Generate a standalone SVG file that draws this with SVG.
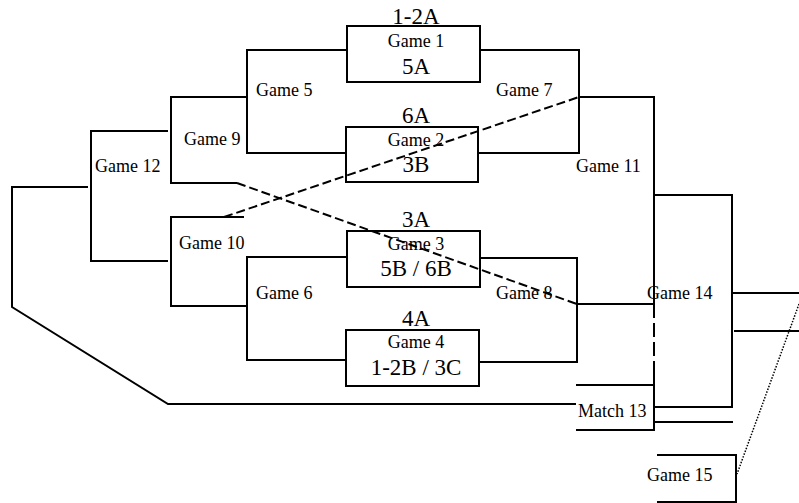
<svg xmlns="http://www.w3.org/2000/svg" width="799" height="503" viewBox="0 0 799 503">
<style>
.ln{fill:none;stroke:#000;stroke-width:2;stroke-linecap:butt}
.box{fill:none;stroke:#000;stroke-width:2}
.dash{fill:none;stroke:#000;stroke-width:2;stroke-dasharray:9,4}
.ldash{fill:none;stroke:#000;stroke-width:2;stroke-dasharray:14,5}
.dot{fill:none;stroke:#000;stroke-width:1.5;stroke-dasharray:1.5,1.5}
.g{font-family:'Liberation Serif','DejaVu Serif','Times New Roman',serif;font-size:18px;fill:#000}
.b{font-family:'Liberation Serif','DejaVu Serif','Times New Roman',serif;font-size:23px;fill:#000;text-anchor:middle}
</style>
<rect width="799" height="503" fill="#fff"/>
<g id="game1">
<rect class="box" x="347" y="26" width="133" height="56"/>
<text class="b" x="416" y="24">1-2A</text>
<text class="g" x="416" y="47" text-anchor="middle">Game 1</text>
<text class="b" x="416" y="74">5A</text>
</g>
<g id="game2">
<rect class="box" x="346" y="127" width="132" height="55"/>
<text class="b" x="416" y="123">6A</text>
<text class="g" x="416" y="146" text-anchor="middle">Game 2</text>
<text class="b" x="416" y="172">3B</text>
</g>
<g id="game3">
<rect class="box" x="347" y="231" width="133" height="56"/>
<text class="b" x="416" y="227">3A</text>
<text class="g" x="416" y="250" text-anchor="middle">Game 3</text>
<text class="b" x="416" y="276">5B / 6B</text>
</g>
<g id="game4">
<rect class="box" x="346" y="330" width="133" height="56"/>
<text class="b" x="416" y="326">4A</text>
<text class="g" x="416" y="348" text-anchor="middle">Game 4</text>
<text class="b" x="416" y="375">1-2B / 3C</text>
</g>
<g id="game5"><text class="g" x="256" y="96">Game 5</text></g>
<g id="game6"><text class="g" x="256" y="299">Game 6</text></g>
<g id="game7"><text class="g" x="496" y="96">Game 7</text></g>
<g id="game8"><text class="g" x="496" y="299">Game 8</text></g>
<g id="game9"><text class="g" x="184" y="145">Game 9</text></g>
<g id="game10"><text class="g" x="179" y="249">Game 10</text></g>
<g id="game11"><text class="g" x="576" y="172">Game 11</text></g>
<g id="game12"><text class="g" x="95" y="172">Game 12</text></g>
<g id="match13"><text class="g" x="578" y="417">Match 13</text></g>
<g id="game14"><text class="g" x="647" y="299">Game 14</text></g>
<g id="game15"><text class="g" x="647" y="481">Game 15</text></g>
<g id="connectors">
<polyline class="ln" points="347,50 247,50 247,153 346,153"/>
<polyline class="ln" points="347,257 247,257 247,360 346,360"/>
<polyline class="ln" points="247,97 171,97 171,183 237,183"/>
<polyline class="ln" points="244,217 171,217 171,306 247,306"/>
<polyline class="ln" points="168,131 91,131 91,261 168,261"/>
<polyline class="ln" points="88,187 12,187 12,307 168,404 576,404"/>
<polyline class="ln" points="480,50 579,50 579,153 479,153"/>
<polyline class="ln" points="480,258 577,258 577,362 480,362"/>
<polyline class="ln" points="579,97 654,97 654,304"/>
<line class="ln" x1="577" y1="304" x2="654" y2="304"/>
<line class="ldash" x1="654" y1="304" x2="654" y2="368"/>
<polyline class="ln" points="576,385 654,385"/>
<polyline class="ln" points="654,368 654,431"/>
<polyline class="ln" points="576,430 654,430"/>
<polyline class="ln" points="654,195 732,195 732,407 654,407"/>
<line class="ln" x1="654" y1="422" x2="733" y2="422"/>
<line class="ln" x1="732" y1="293" x2="799" y2="293"/>
<line class="ln" x1="734" y1="331" x2="799" y2="331"/>
<polyline class="ln" points="657,455 736,455 736,503"/>
<line class="ln" x1="657" y1="502" x2="736" y2="502"/>
<line class="dash" x1="237" y1="183" x2="577" y2="304"/>
<line class="dash" x1="224" y1="217" x2="579" y2="97"/>
<line class="dot" x1="799" y1="304" x2="737" y2="474"/>
</g>
</svg>
